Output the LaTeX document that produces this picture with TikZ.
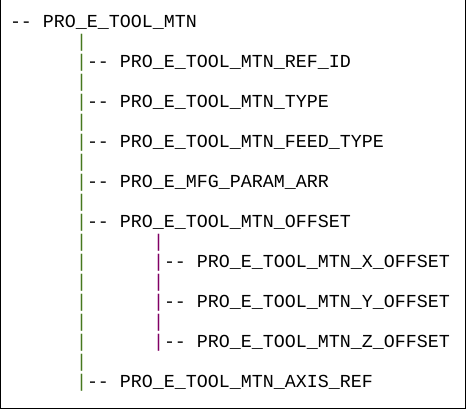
\documentclass[tikz,border=0pt]{standalone}
\usepackage{fontspec}
\setmonofont{Liberation Mono}
\definecolor{treegreen}{RGB}{70,120,30}
\definecolor{treepurple}{RGB}{128,0,100}
\begin{document}
\begin{tikzpicture}[x=1pt,y=-1pt,
  txt/.style={inner sep=0pt,outer sep=0pt,anchor=base west,
    font=\ttfamily\fontsize{18.33}{20}\selectfont},
  gpipe/.style={txt,text=treegreen},
  ppipe/.style={txt,text=treepurple}]
\useasboundingbox (0,0) rectangle (467,410);
\draw[line width=1pt] (0.5,0) -- (0.5,408.5) -- (465.5,408.5) -- (465.5,0);
% root
\node[txt] (root) at (10,27) {-{}- PRO\_E\_TOOL\_MTN};
% level-1 pipes
\foreach \k in {1,...,18}{
  \node[gpipe] (g\k) at (76,{27+20*\k}) {|};
}
% level-1 children
\node[txt] (c1) at (87,67)  {-{}- PRO\_E\_TOOL\_MTN\_REF\_ID};
\node[txt] (c2) at (87,107) {-{}- PRO\_E\_TOOL\_MTN\_TYPE};
\node[txt] (c3) at (87,147) {-{}- PRO\_E\_TOOL\_MTN\_FEED\_TYPE};
\node[txt] (c4) at (87,187) {-{}- PRO\_E\_MFG\_PARAM\_ARR};
\node[txt] (c5) at (87,227) {-{}- PRO\_E\_TOOL\_MTN\_OFFSET};
\node[txt] (c6) at (87,387) {-{}- PRO\_E\_TOOL\_MTN\_AXIS\_REF};
% level-2 pipes
\foreach \k in {11,...,16}{
  \node[ppipe] (p\k) at (153,{27+20*\k}) {|};
}
% level-2 children
\node[txt] (d1) at (164,267) {-{}- PRO\_E\_TOOL\_MTN\_X\_OFFSET};
\node[txt] (d2) at (164,307) {-{}- PRO\_E\_TOOL\_MTN\_Y\_OFFSET};
\node[txt] (d3) at (164,347) {-{}- PRO\_E\_TOOL\_MTN\_Z\_OFFSET};
\end{tikzpicture}
\end{document}
